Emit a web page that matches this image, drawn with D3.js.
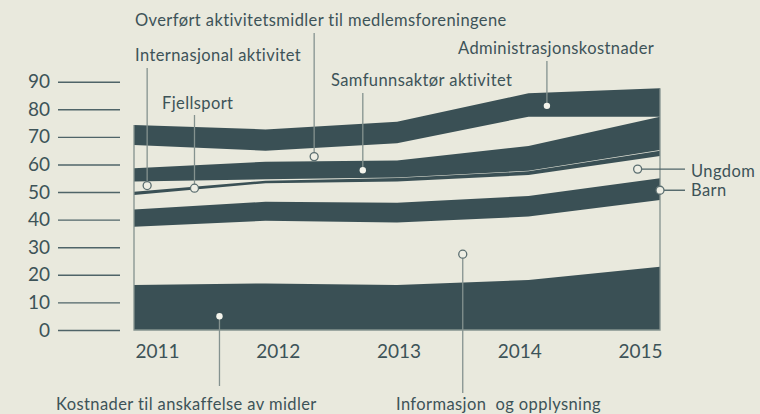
<!DOCTYPE html>
<html><head><meta charset="utf-8">
<script src="https://cdn.jsdelivr.net/npm/d3@7"></script>
<style>
html,body{margin:0;padding:0;background:#e9e9dd;}
svg{display:block;}
text{font-family:Lato,"Noto Sans",sans-serif;fill:#3d5358;}
</style></head>
<body>
<svg id="chart" width="760" height="414"></svg>
<script>
const years = [2011, 2012, 2013, 2014, 2015];
const keys = ["Kostnader til anskaffelse av midler","Informasjon  og opplysning","Barn","Ungdom","Fjellsport","Internasjonal aktivitet","Samfunnsaktør aktivitet","Overført aktivitetsmidler til medlemsforeningene","Administrasjonskostnader"];
const kostnader      = [16.3, 16.9, 16.3, 18.1, 22.9];
const informasjon    = [21.1, 22.7, 22.7, 23.0, 24.2];
const barn           = [6.3, 6.9, 7.1, 7.5, 7.9];
const ungdom         = [5.2, 6.7, 7.7, 7.6, 8.1];
const fjellsport     = [1.2, 0.9, 1.3, 1.3, 1.9];
const internasjonal  = [3.7, 0.5, 0.2, 0.2, 0.2];
const samfunnsaktor  = [4.8, 6.4, 6.1, 9.0, 12.1];
const overfort       = [8.5, 4.0, 6.3, 10.6, 0.0];
const administrasjon = [7.2, 7.7, 7.8, 8.5, 10.3];
const yTicks = [0,10,20,30,40,50,60,70,80,90];
const series = [kostnader, informasjon, barn, ungdom, fjellsport, internasjonal, samfunnsaktor, overfort, administrasjon];

const table = years.map((yr, i) => {
  const row = {year: yr};
  keys.forEach((k, j) => row[k] = series[j][i]);
  return row;
});

const dark = "#3a5055", bg = "#e9e9dd", grey = "#84928f";
const svg = d3.select("#chart");
svg.append("rect").attr("width",760).attr("height",414).attr("fill",bg);

const x = d3.scaleLinear().domain([2011, 2015]).range([134, 660]);
const y = d3.scaleLinear().domain([0, 90]).range([330, 81.7]);
const xLab = d3.scalePoint().domain(years).range([157, 640]);

// y axis ticks
const yAxis = d3.axisLeft(y).tickValues(yTicks).tickSize(62).tickPadding(8);
const ga = svg.append("g").attr("transform","translate(120,0)").call(yAxis);
ga.select(".domain").remove();
ga.selectAll(".tick line").attr("stroke","#4f6468").attr("stroke-width",1.4);
ga.selectAll(".tick text").attr("fill","#3d5358").style("font-size","19px").style("font-family","Lato,sans-serif");

// x labels
const xAxis = d3.axisBottom(xLab).tickSize(0).tickPadding(0).tickFormat(d3.format("d"));
const gx = svg.append("g").attr("transform","translate(0,344)").call(xAxis);
gx.select(".domain").remove();
gx.selectAll(".tick text").attr("fill","#3d5358").style("font-size","19px").style("font-family","Lato,sans-serif");

// stacked areas
const stack = d3.stack().keys(keys)(table);
const area = d3.area().x(d => x(d.data.year)).y0(d => y(d[0])).y1(d => y(d[1]));
svg.append("g").selectAll("path").data(stack.filter((s, i) => i % 2 === 0))
  .join("path").attr("d", area).attr("fill", dark);

// outline frame
const topLayer = stack[stack.length - 1];
svg.append("path")
  .attr("d", d3.line()([[x(2011), y(topLayer[0][1])],[x(2011), y(0)],[x(2015), y(0)],[x(2015), y(topLayer[4][1])]]))
  .attr("fill","none").attr("stroke",grey).attr("stroke-width",1.3);

const ann = [
  {k:0, yr:2011.65, f:0.3,  tx:56,  ty:410, dir:"down", ly:386},
  {k:1, yr:2013.5,  f:0.45, tx:396, ty:410, dir:"down", ly:393},
  {k:5, yr:2011.1,  f:0.55, tx:135, ty:61,  dir:"up", ly:68},
  {k:4, yr:2011.46, f:0.5,  tx:162, ty:109, dir:"up", ly:115},
  {k:7, yr:2012.37, f:0.35, tx:135, ty:26,  dir:"up", ly:33},
  {k:6, yr:2012.74, f:0.45, tx:331, ty:86,  dir:"up", ly:93},
  {k:8, yr:2014.14, f:0.45, tx:458, ty:54,  dir:"up", ly:61},
  {k:3, yr:2014.83, f:0.55, tx:691, ty:177, dir:"right", ly:685},
  {k:2, yr:2015,    f:0.45, tx:691, ty:196, dir:"right", ly:685}
];
function layerVal(k, yr, f) {
  const s = stack[k];
  const i = Math.min(3, Math.floor(yr - 2011));
  const t = yr - 2011 - i;
  const lo = s[i][0] + (s[i+1][0] - s[i][0]) * t;
  const hi = s[i][1] + (s[i+1][1] - s[i][1]) * t;
  return lo + (hi - lo) * f;
}
const ga2 = svg.append("g");
ann.forEach(a => {
  const px = x(a.yr), py = y(layerVal(a.k, a.yr, a.f));
  const isDark = a.k % 2 === 0 && a.k !== 4 && a.k !== 2;
  if (a.dir === "up") {
    ga2.append("line").attr("x1",px).attr("x2",px).attr("y1",a.ly).attr("y2",py).attr("stroke",grey).attr("stroke-width",1.3);
  } else if (a.dir === "down") {
    ga2.append("line").attr("x1",px).attr("x2",px).attr("y1",py).attr("y2",a.ly).attr("stroke",grey).attr("stroke-width",1.3);
  } else {
    ga2.append("line").attr("x1",px).attr("x2",a.ly).attr("y1",py).attr("y2",py).attr("stroke","#4f6468").attr("stroke-width",1.4);
  }
  if (isDark) {
    ga2.append("circle").attr("cx",px).attr("cy",py).attr("r",3.2).attr("fill","#f4f4ec");
  } else {
    ga2.append("circle").attr("cx",px).attr("cy",py).attr("r",4).attr("fill","#eeeee4").attr("stroke","#5b6e70").attr("stroke-width",1.3);
  }
  ga2.append("text").attr("x",a.tx).attr("y",a.ty).text(keys[a.k])
    .style("font-size","16.5px").style("letter-spacing","0.4px").style("white-space","pre");
});
</script>
</body></html>
